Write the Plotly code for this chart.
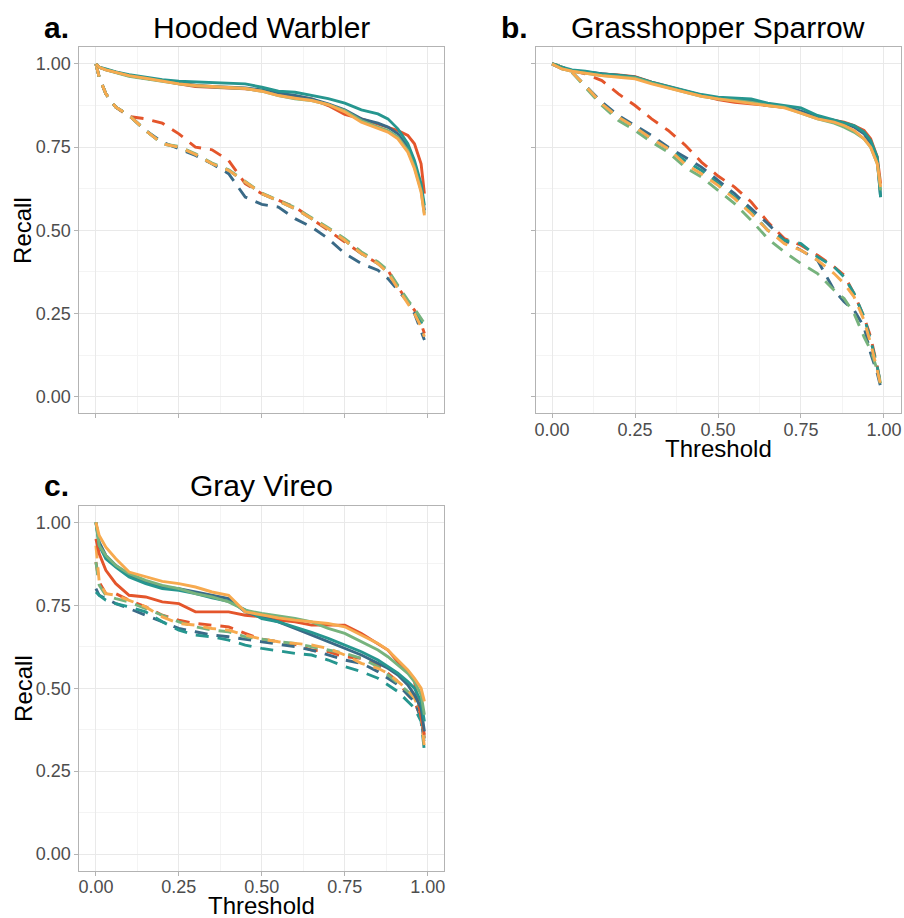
import plotly.graph_objects as go

# Thresholds (shared grid for all curves)
THRESH = [0, 0.01, 0.03, 0.06, 0.1, 0.15, 0.2, 0.25, 0.3, 0.35, 0.4, 0.45, 0.5,
          0.55, 0.6, 0.65, 0.7, 0.75, 0.8, 0.85, 0.88, 0.91, 0.94, 0.96, 0.98, 0.99]

MODELS = ["m1", "m2", "m3", "m4", "m5"]
COLORS = ["#E4552B", "#3A6A87", "#26968F", "#77B37D", "#F7AA4F"]

# ---- a. Hooded Warbler ----
HW_SOLID = {
    "m1": [1.0, .99, .983, .975, .965, .957, .95, .94, .932, .93, .928, .925, .92, .912, .902, .895, .875, .848, .835, .82, .81, .80, .785, .76, .70, .61],
    "m2": [1.0, .99, .983, .975, .965, .957, .95, .942, .936, .932, .93, .928, .922, .912, .905, .895, .88, .862, .835, .822, .81, .79, .75, .70, .63, .56],
    "m3": [1.0, .99, .985, .976, .968, .96, .953, .948, .946, .944, .942, .94, .93, .918, .915, .906, .896, .882, .862, .85, .835, .805, .76, .71, .64, .575],
    "m4": [1.0, .99, .982, .974, .963, .955, .947, .94, .934, .93, .928, .926, .918, .905, .895, .89, .878, .86, .83, .81, .80, .78, .74, .69, .62, .55],
    "m5": [1.0, .99, .982, .975, .965, .957, .948, .94, .935, .932, .93, .926, .918, .905, .897, .89, .878, .856, .825, .806, .795, .775, .735, .685, .615, .545],
}
HW_DASH = {
    "m1": [1.0, .96, .91, .87, .842, .835, .822, .79, .75, .742, .71, .64, .61, .59, .57, .535, .50, .465, .43, .40, .38, .33, .285, .26, .22, .19],
    "m2": [1.0, .96, .91, .87, .845, .80, .765, .745, .725, .70, .67, .60, .578, .57, .535, .51, .475, .43, .40, .38, .355, .32, .285, .25, .20, .17],
    "m3": [1.0, .96, .91, .87, .845, .80, .76, .75, .728, .70, .68, .645, .61, .588, .565, .535, .505, .47, .43, .40, .375, .33, .285, .26, .225, .20],
    "m4": [1.0, .96, .91, .87, .845, .80, .76, .752, .73, .702, .682, .648, .612, .59, .568, .538, .508, .475, .435, .405, .38, .335, .29, .265, .235, .22],
    "m5": [1.0, .96, .91, .87, .845, .80, .76, .75, .728, .70, .68, .645, .61, .588, .565, .535, .505, .47, .43, .40, .372, .325, .28, .25, .21, .18],
}

# ---- b. Grasshopper Sparrow ----
GS_SOLID = {
    "m1": [1.0, .995, .985, .98, .975, .97, .967, .962, .945, .932, .918, .905, .893, .885, .88, .875, .87, .855, .84, .83, .825, .815, .80, .775, .72, .64],
    "m2": [1.0, .995, .988, .98, .976, .97, .966, .96, .944, .93, .918, .906, .897, .893, .89, .88, .872, .858, .84, .83, .822, .81, .79, .76, .71, .60],
    "m3": [1.0, .998, .99, .982, .978, .97, .966, .96, .945, .932, .92, .908, .90, .897, .895, .882, .876, .868, .845, .832, .825, .815, .795, .77, .72, .60],
    "m4": [1.0, .995, .985, .978, .972, .965, .962, .958, .942, .928, .915, .903, .895, .89, .885, .875, .87, .852, .835, .822, .81, .795, .775, .75, .70, .62],
    "m5": [1.0, .995, .985, .978, .972, .965, .96, .955, .94, .928, .915, .903, .895, .888, .883, .875, .868, .852, .835, .825, .815, .80, .775, .75, .70, .63],
}
GS_DASH = {
    "m1": [1.0, .998, .99, .98, .97, .95, .91, .875, .835, .80, .757, .705, .663, .63, .585, .525, .475, .455, .425, .39, .365, .31, .24, .18, .09, .035],
    "m2": [1.0, .998, .99, .975, .935, .885, .845, .815, .785, .75, .72, .69, .65, .61, .565, .52, .47, .44, .41, .32, .285, .26, .21, .13, .07, .03],
    "m3": [1.0, .998, .99, .975, .935, .88, .84, .81, .775, .745, .71, .68, .64, .60, .555, .50, .47, .46, .42, .39, .36, .31, .24, .17, .09, .04],
    "m4": [1.0, .998, .99, .975, .93, .875, .83, .80, .765, .735, .69, .66, .62, .58, .53, .475, .435, .40, .37, .32, .295, .25, .18, .14, .08, .04],
    "m5": [1.0, .998, .99, .975, .935, .88, .84, .81, .775, .745, .70, .67, .635, .595, .55, .50, .46, .44, .41, .37, .34, .30, .23, .16, .08, .035],
}

# ---- c. Gray Vireo ----
GV_SOLID = {
    "m1": [.95, .905, .855, .815, .78, .775, .76, .755, .73, .73, .73, .72, .715, .705, .70, .69, .69, .69, .665, .635, .615, .58, .55, .52, .42, .36],
    "m2": [1.0, .94, .90, .87, .84, .82, .805, .80, .79, .78, .77, .73, .715, .70, .68, .66, .64, .62, .60, .575, .56, .54, .51, .48, .44, .37],
    "m3": [1.0, .93, .89, .865, .835, .815, .80, .795, .785, .772, .762, .735, .71, .70, .685, .668, .65, .63, .61, .585, .565, .545, .52, .50, .46, .40],
    "m4": [1.0, .93, .90, .87, .845, .825, .81, .80, .785, .775, .76, .735, .725, .718, .71, .70, .68, .665, .64, .615, .595, .57, .545, .52, .48, .42],
    "m5": [1.0, .96, .925, .89, .85, .835, .822, .815, .805, .79, .78, .73, .72, .712, .705, .70, .695, .685, .66, .635, .615, .585, .555, .53, .50, .46],
}
GV_DASH = {
    "m1": [.88, .82, .785, .785, .765, .745, .72, .705, .695, .69, .685, .665, .648, .64, .632, .615, .61, .595, .59, .57, .545, .52, .48, .46, .41, .35],
    "m2": [.80, .78, .77, .755, .74, .72, .70, .68, .67, .66, .655, .648, .64, .632, .625, .615, .60, .585, .575, .55, .53, .51, .48, .46, .41, .33],
    "m3": [.79, .78, .765, .755, .745, .73, .70, .675, .66, .655, .645, .63, .62, .612, .605, .60, .585, .565, .55, .53, .51, .49, .46, .44, .40, .31],
    "m4": [.88, .81, .78, .77, .76, .74, .72, .70, .685, .675, .67, .655, .648, .64, .635, .625, .615, .605, .59, .565, .54, .515, .49, .47, .43, .34],
    "m5": [.93, .82, .785, .78, .765, .745, .715, .695, .69, .68, .675, .66, .648, .64, .635, .63, .62, .60, .575, .56, .545, .52, .495, .47, .42, .32],
}

PANELS = [
    ("x", "y", HW_SOLID, HW_DASH),
    ("x2", "y2", GS_SOLID, GS_DASH),
    ("x3", "y3", GV_SOLID, GV_DASH),
]

fig = go.Figure()
LW = 2.9
for xa, ya, solid, dash in PANELS:
    for m, c in zip(MODELS, COLORS):
        fig.add_trace(go.Scatter(x=THRESH, y=dash[m], mode="lines", xaxis=xa, yaxis=ya,
                                 line=dict(color=c, width=LW, dash="13px,9px"),
                                 showlegend=False, hoverinfo="skip"))
    for m, c in zip(MODELS, COLORS):
        fig.add_trace(go.Scatter(x=THRESH, y=solid[m], mode="lines", xaxis=xa, yaxis=ya,
                                 line=dict(color=c, width=LW),
                                 showlegend=False, hoverinfo="skip"))

W, H = 904, 918
TICKS = [0, 0.25, 0.5, 0.75, 1.0]
TICKTEXT = ["0.00", "0.25", "0.50", "0.75", "1.00"]
FONT = "Liberation Sans, Arial, sans-serif"


def ax(domain, anchor, labels, standoff=0):
    return dict(domain=domain, anchor=anchor, range=[-0.05, 1.05],
                tickvals=TICKS, ticktext=TICKTEXT, showticklabels=labels,
                ticks="outside", ticklen=4, tickcolor="#b3b3b3", tickwidth=1,
                ticklabelstandoff=standoff,
                tickfont=dict(size=18, color="#4d4d4d", family=FONT),
                showline=True, mirror=True, linecolor="#b3b3b3", linewidth=1,
                showgrid=True, gridcolor="#e9e9e9", gridwidth=1, zeroline=False,
                minor=dict(tick0=0.125, dtick=0.25, showgrid=True,
                           gridcolor="#f4f4f4", gridwidth=1, ticks=""),
                fixedrange=True)


def px(v):
    return v / W


def py(v):
    return 1 - v / H


xa_dom = [px(78.5), px(444.3)]
xb_dom = [px(535.7), px(901.5)]
ya_dom = [py(413.3), py(47.3)]
yc_dom = [py(870.7), py(505.7)]

fig.update_layout(
    width=W, height=H, margin=dict(l=0, r=0, t=0, b=0),
    paper_bgcolor="white", plot_bgcolor="white",
    font=dict(family=FONT),
    xaxis=ax(xa_dom, "y", False),
    yaxis=ax(ya_dom, "x", True),
    xaxis2=ax(xb_dom, "y2", True, -4),
    yaxis2=ax(ya_dom, "x2", False),
    xaxis3=ax(xa_dom, "y3", True, -4),
    yaxis3=ax(yc_dom, "x3", True),
)

ann = []


def text(x, y, s, size, bold=False, angle=0):
    ann.append(dict(x=px(x), y=py(y), xref="paper", yref="paper", text=("<b>%s</b>" % s) if bold else s,
                    showarrow=False, xanchor="center", yanchor="middle", textangle=angle,
                    font=dict(size=size, color="black", family=FONT)))


text(56, 27, "a.", 30, bold=True)
text(261.4, 27, "Hooded Warbler", 30)
text(515, 27, "b.", 30, bold=True)
text(718.6, 27, "Grasshopper Sparrow", 30)
text(56, 485, "c.", 30, bold=True)
text(261.4, 485, "Gray Vireo", 30)
text(22, 230, "Recall", 24, angle=-90)
text(22, 688, "Recall", 24, angle=-90)
text(718.6, 449, "Threshold", 24)
text(261.4, 905, "Threshold", 24)

fig.update_layout(annotations=ann)
fig.write_html("out.html", config={"displayModeBar": False},
               post_script="document.body.style.margin='0';document.body.style.padding='0';"
                           "document.documentElement.style.overflow='hidden';")
